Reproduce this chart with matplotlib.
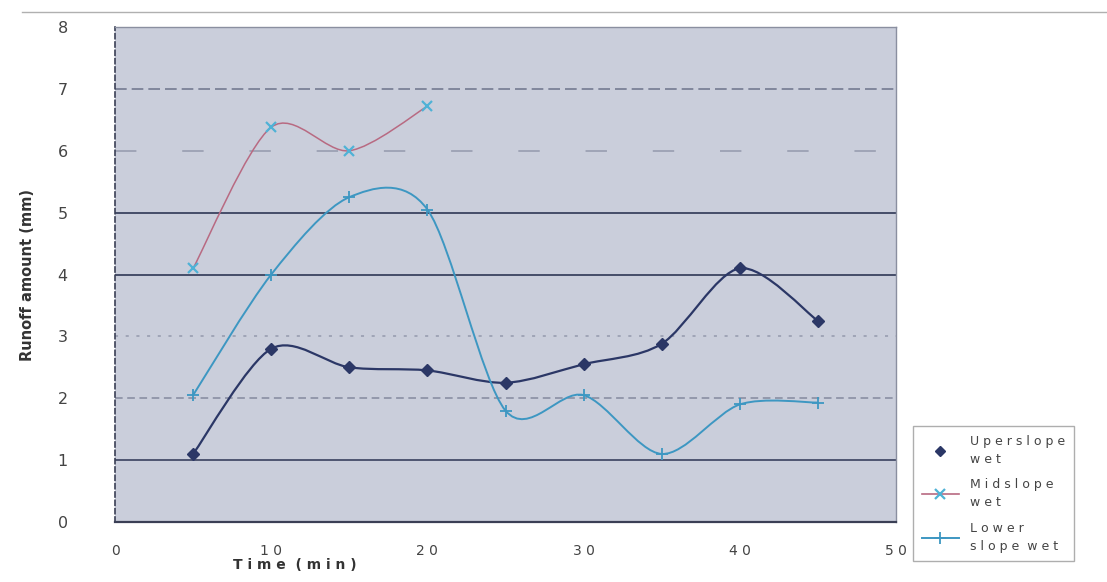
import numpy as np
import matplotlib
matplotlib.use("Agg")
import matplotlib.pyplot as plt
from matplotlib.path import Path
from matplotlib.patches import PathPatch
from matplotlib.lines import Line2D

# Runoff measurements (mm) over time (min)
time_upper = [5, 10, 15, 20, 25, 30, 35, 40, 45]
upper_wet = [1.1, 2.8, 2.5, 2.45, 2.25, 2.55, 2.88, 4.1, 3.25]

time_mid = [5, 10, 15, 20]
mid_wet = [4.1, 6.38, 6.0, 6.72]

time_lower = [5, 10, 15, 20, 25, 30, 35, 40, 45]
lower_wet = [2.05, 4.0, 5.25, 5.05, 1.8, 2.05, 1.1, 1.9, 1.93]

series_labels = ["U p e r s l o p e\nw e t", "M i d s l o p e\nw e t", "L o w e r\ns l o p e  w e t"]
x_ticks = [0, 10, 20, 30, 40, 50]
y_ticks = [0, 1, 2, 3, 4, 5, 6, 7, 8]


def smooth_path(xs, ys, k=0.15):
    """Cubic Bezier path through the points (Catmull-Rom style smoothing)."""
    pts = np.column_stack([xs, ys]).astype(float)
    n = len(pts)
    verts = [pts[0]]
    codes = [Path.MOVETO]
    for i in range(n - 1):
        p0 = pts[i - 1] if i > 0 else pts[i]
        p1 = pts[i]
        p2 = pts[i + 1]
        p3 = pts[i + 2] if i + 2 < n else pts[i + 1]
        c1 = p1 + (p2 - p0) * k
        c2 = p2 - (p3 - p1) * k
        verts += [c1, c2, p2]
        codes += [Path.CURVE4] * 3
    return Path(verts, codes)


fig = plt.figure(figsize=(11.07, 5.82), dpi=100)
fig.patch.set_facecolor("white")
ax = fig.add_axes([0.1039, 0.1031, 0.7055, 0.8505])
ax.set_facecolor("#cacedb")

ax.set_xlim(0, 50)
ax.set_ylim(0, 8)
ax.set_xticks(x_ticks)
ax.set_yticks(y_ticks)
ax.set_xticklabels([" ".join(str(t)) for t in x_ticks], fontsize=10, color="#444444")
ax.set_yticklabels([str(t) for t in y_ticks], fontsize=11.5, color="#444444")
ax.tick_params(axis="x", length=0, pad=16)
ax.tick_params(axis="y", length=0, pad=34)

# Horizontal gridlines with the uneven look of the printed chart
grid_styles = {
    1: ("solid", 0.85, 1.3),
    2: ((0, (5, 3)), 0.45, 1.1),
    3: ((0, (2, 5)), 0.35, 1.1),
    4: ("solid", 0.85, 1.4),
    5: ("solid", 0.85, 1.4),
    6: ((0, (14, 30)), 0.35, 1.1),
    7: ((0, (7, 3)), 0.55, 1.2),
}
for yv in ax.get_yticks():
    if int(yv) in grid_styles:
        ls, a, lw = grid_styles[int(yv)]
        ax.axhline(yv, color="#2e3654", linestyle=ls, alpha=a, lw=lw, zorder=1)

for side in ["top", "right"]:
    ax.spines[side].set_color("#8a8fa0")
    ax.spines[side].set_linewidth(1.0)
ax.spines["left"].set_color("#3a3f55")
ax.spines["left"].set_linestyle((0, (3, 2)))
ax.spines["left"].set_linewidth(1.2)
ax.spines["bottom"].set_color("#3a3f55")
ax.spines["bottom"].set_linewidth(1.6)

upper_color = "#2b3766"
mid_line_color = "#b86a82"
mid_marker_color = "#4fb2d6"
lower_color = "#3d97c2"

ax.add_patch(PathPatch(smooth_path(time_upper, upper_wet), facecolor="none",
                       edgecolor=upper_color, lw=1.6, zorder=3))
ax.add_patch(PathPatch(smooth_path(time_mid, mid_wet), facecolor="none",
                       edgecolor=mid_line_color, lw=1.1, zorder=3))
ax.add_patch(PathPatch(smooth_path(time_lower, lower_wet), facecolor="none",
                       edgecolor=lower_color, lw=1.4, zorder=3))

ax.plot(time_upper, upper_wet, linestyle="none", marker="D", ms=6,
        color=upper_color, zorder=4)
ax.plot(time_mid, mid_wet, linestyle="none", marker="x", ms=7, mew=1.6,
        color=mid_marker_color, zorder=4)
ax.plot(time_lower, lower_wet, linestyle="none", marker="+", ms=8, mew=1.3,
        color=lower_color, zorder=4)

ax.set_ylabel("Runoff amount (mm)", fontsize=10.5, fontweight="bold",
              color="#333333", labelpad=16)
fig.text(0.2665, 0.029, "T i m e  ( m i n )", fontsize=10, fontweight="bold",
         color="#333333", ha="center", va="center")

handles = [
    Line2D([], [], color="none", marker="D", ms=5, mfc=upper_color, mec=upper_color),
    Line2D([], [], color=mid_line_color, marker="x", ms=7, mew=1.6,
           mfc=mid_marker_color, mec=mid_marker_color, lw=1.2),
    Line2D([], [], color=lower_color, marker="+", ms=8, mew=1.3, lw=1.4),
]
leg = fig.legend(handles, series_labels, loc="upper left",
                 bbox_to_anchor=(0.819, 0.279), frameon=True, fancybox=False,
                 fontsize=9, labelspacing=1.0, handlelength=3.0,
                 borderpad=0.7, handletextpad=0.9)
leg.get_frame().set_edgecolor("#9a9a9a")
leg.get_frame().set_linewidth(1.0)
for t in leg.get_texts():
    t.set_color("#444444")
    t.set_linespacing(1.5)

# faint rule along the top of the page
fig.add_artist(Line2D([0.02, 1.0], [0.979, 0.979], transform=fig.transFigure,
                      color="#b0b0b0", lw=1.0))

fig.savefig("out.png", dpi=100, facecolor="white")
